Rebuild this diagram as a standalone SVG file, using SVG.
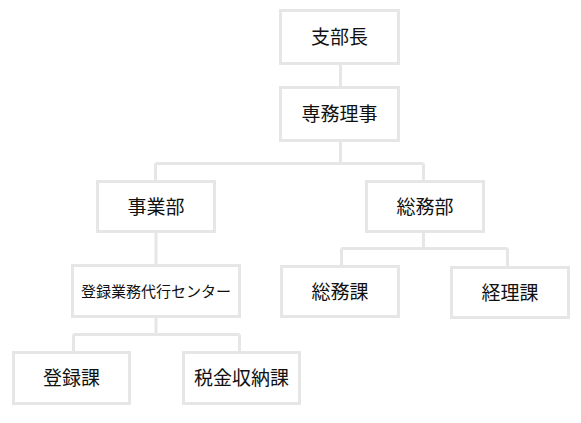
<svg xmlns="http://www.w3.org/2000/svg" width="581" height="423" viewBox="0 0 581 423">
<style>
.box{fill:#ffffff;stroke:#e6e6e6;stroke-width:3}
.ln{fill:none;stroke:#e6e6e6;stroke-width:3}
text{font-family:"Noto Sans CJK JP","Noto Sans",sans-serif;font-size:19px;fill:#111;text-anchor:middle}
.sm{font-size:15px}
</style>
<rect width="581" height="423" fill="#ffffff"/>
<g id="connectors">
<path class="ln" d="M340.5 65V86M340.5 142V163.5M155.5 163.5H423.5M155.5 163.5V180M423.5 163.5V180"/>
<path class="ln" d="M156 233V264M156 318V334.5M73.5 334.5H239.5M73.5 334.5V351M239.5 334.5V351"/>
<path class="ln" d="M423.5 233V248.5M341.5 248.5H507.5M341.5 248.5V265M507.5 248.5V266"/>
</g>
<g id="n1"><rect class="box" x="280.5" y="10.5" width="118" height="53"/><text x="339.5" y="44">支部長</text></g>
<g id="n2"><rect class="box" x="280.5" y="87.5" width="118" height="53"/><text x="339.5" y="121">専務理事</text></g>
<g id="n3"><rect class="box" x="97.5" y="181.5" width="117" height="50"/><text x="156" y="213.5">事業部</text></g>
<g id="n4"><rect class="box" x="366.5" y="181.5" width="117" height="50"/><text x="425" y="213.5">総務部</text></g>
<g id="n5"><rect class="box" x="72.5" y="265.5" width="167" height="51"/><text class="sm" x="156" y="296.5">登録業務代行センター</text></g>
<g id="n6"><rect class="box" x="281.5" y="266.5" width="117" height="50"/><text x="340" y="298.5">総務課</text></g>
<g id="n7"><rect class="box" x="451.5" y="267.5" width="117" height="50"/><text x="510" y="299.5">経理課</text></g>
<g id="n8"><rect class="box" x="13.5" y="352.5" width="116" height="51"/><text x="71.5" y="385">登録課</text></g>
<g id="n9"><rect class="box" x="183.5" y="352.5" width="116" height="51"/><text x="241.5" y="385">税金収納課</text></g>
</svg>
